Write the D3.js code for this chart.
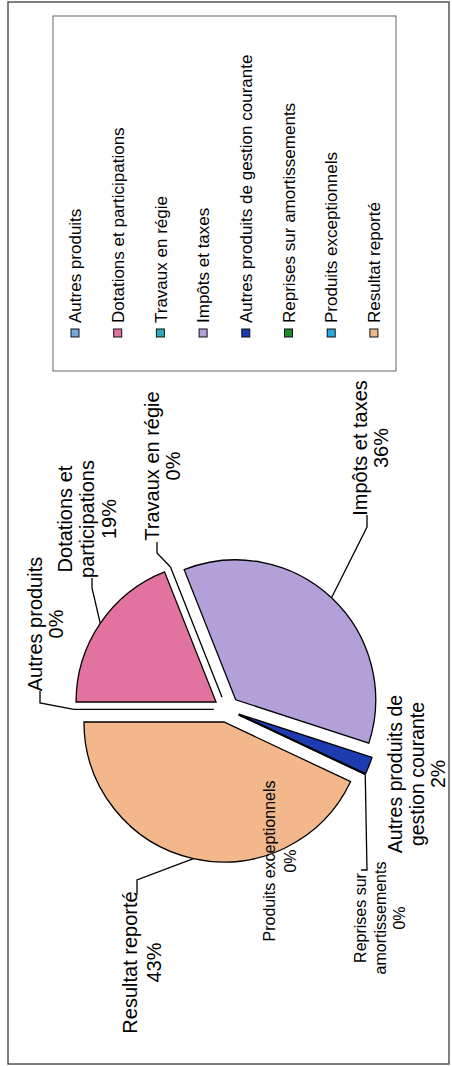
<!DOCTYPE html>
<html>
<head>
<meta charset="utf-8">
<script src="https://cdn.jsdelivr.net/npm/d3@7"></script>
<style>
  body { margin: 0; background: #fff; }
  text { font-family: "Liberation Sans", Arial, sans-serif; fill: #000; }
</style>
</head>
<body>
<svg id="chart" width="452" height="1066"></svg>
<script>
  // data
  const categories = ["Autres produits", "Dotations et participations", "Travaux en régie",
    "Impôts et taxes", "Autres produits de gestion courante", "Reprises sur amortissements",
    "Produits exceptionnels", "Resultat reporté"];
  const values = [0, 19, 0, 36, 2, 0, 0, 43];
  const labelLines = [["Autres produits"], ["Dotations et", "participations"], ["Travaux en régie"],
    ["Impôts et taxes"], ["Autres produits de", "gestion courante"], ["Reprises sur", "amortissements"],
    ["Produits exceptionnels"], ["Resultat reporté"]];
  const colors = ["#6ea8dc", "#e2729e", "#2fa9b8", "#b3a0d9", "#1c3cb0", "#1d8a2c", "#2aa8dd", "#f2b78b"];

  // the page is a scan turned a quarter turn, so draw the chart lying down
  const W = 1066, H = 452;
  const svg = d3.select("#chart");
  const g = svg.append("g").attr("transform", `translate(0,${W}) rotate(-90)`);

  g.append("rect")
    .attr("x", 2).attr("y", 8).attr("width", 1062).attr("height", 441)
    .attr("fill", "#fff").attr("stroke", "#555").attr("stroke-width", 1.5);

  // pie
  const cx = 356.7, cy = 226.8, R = 140, explode = 13;
  const arcs = d3.pie().sort(null).startAngle(0)(values);
  const arc = d3.arc().innerRadius(0).outerRadius(R);
  const mid = d => (d.startAngle + d.endAngle) / 2;
  const off = d => [explode * Math.sin(mid(d)), -explode * Math.cos(mid(d))];

  const pieG = g.append("g").attr("transform", `translate(${cx},${cy})`);
  pieG.selectAll("path")
    .data(arcs)
    .join("path")
      .attr("transform", d => `translate(${off(d)})`)
      .attr("d", arc)
      .attr("fill", (d, i) => colors[i])
      .attr("stroke", "#000")
      .attr("stroke-width", 1.3)
      .attr("stroke-linejoin", "miter");

  // data labels, placed by hand like the original
  const labelPos = [
    { x: 442, y: 41.5, lh: 21.5, fs: 20, lead: [[375, 40], [363, 40]] },
    { x: 547, y: 72, lh: 22, fs: 20, lead: [[488, 92], [478, 92]] },
    { x: 600, y: 159, lh: 21, fs: 20, lead: [[524, 157], [513, 157]] },
    { x: 618, y: 367, lh: 21, fs: 20, lead: [[551, 367], [539, 367]] },
    { x: 292, y: 402, lh: 21.5, fs: 19.5, lead: null },
    { x: 148, y: 366, lh: 19.5, fs: 16, lead: [[196, 361], [196, 367]] },
    { x: 205, y: 275, lh: 20.5, fs: 16, lead: null },
    { x: 103.5, y: 137, lh: 24, fs: 20, lead: [[171, 137], [186, 137]] }
  ];
  const total = d3.sum(values);
  const pct = d3.format(".0%");

  arcs.forEach((d, i) => {
    const p = labelPos[i];
    const lines = labelLines[i].concat([pct(values[i] / total)]);
    const t = g.append("text")
      .attr("text-anchor", "middle")
      .style("font-size", p.fs + "px");
    lines.forEach((s, k) => {
      t.append("tspan").attr("x", p.x).attr("y", p.y + k * p.lh).text(s);
    });
    if (p.lead) {
      const a = mid(d), o = off(d);
      const end = [cx + o[0] + R * Math.sin(a), cy + o[1] - R * Math.cos(a)];
      g.append("path")
        .attr("d", d3.line()(p.lead.concat([end])))
        .attr("fill", "none")
        .attr("stroke", "#000")
        .attr("stroke-width", 1.3);
    }
  });

  // legend
  const leg = g.append("g");
  leg.append("rect")
    .attr("x", 695).attr("y", 53).attr("width", 355).attr("height", 343)
    .attr("fill", "none").attr("stroke", "#666").attr("stroke-width", 1);

  const item = leg.selectAll("g.item")
    .data(categories)
    .join("g")
      .attr("class", "item")
      .attr("transform", (d, i) => `translate(0,${75 + i * 42.7})`);
  item.append("rect")
    .attr("x", 729).attr("y", -4).attr("width", 8).attr("height", 8)
    .attr("fill", (d, i) => colors[i])
    .attr("stroke", "#111").attr("stroke-width", 1);
  item.append("text")
    .attr("x", 743).attr("dy", "0.36em")
    .style("font-size", "17px")
    .text(d => d);
</script>
</body>
</html>
